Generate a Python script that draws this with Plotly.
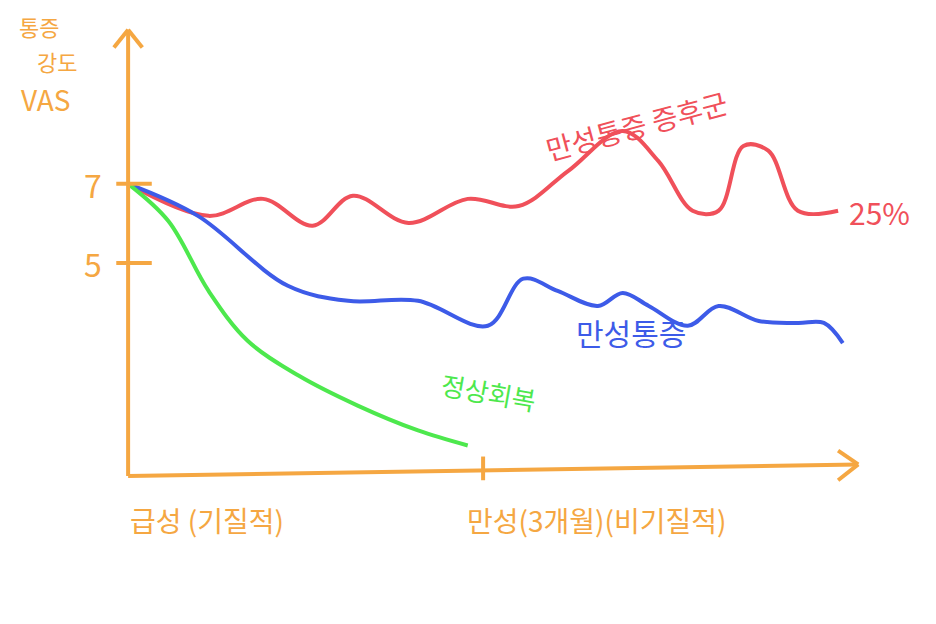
import plotly.graph_objects as go

red_x = [0, 0.68, 1.14, 1.56, 1.90, 2.37, 2.87, 3.30, 3.72, 4.18, 4.48, 4.77, 4.99, 5.20, 5.41, 5.66, 6.00]
red_y = [7, 6.19, 6.62, 5.94, 6.70, 6.01, 6.62, 6.44, 7.33, 8.34, 7.58, 6.32, 6.32, 7.96, 7.84, 6.32, 6.32]
blue_x = [0, 0.59, 1.35, 1.86, 2.45, 3.04, 3.34, 3.63, 3.97, 4.18, 4.40, 4.73, 4.99, 5.33, 5.66, 5.88, 6.04]
blue_y = [7, 6.19, 4.42, 4.04, 4.04, 3.41, 4.60, 4.29, 3.91, 4.24, 3.91, 3.41, 3.91, 3.53, 3.48, 3.48, 2.97]
green_x = [0, 0.34, 0.68, 1.01, 1.44, 1.94, 2.45, 2.87]
green_y = [7, 6.06, 4.29, 3.03, 2.15, 1.39, 0.76, 0.38]
y_ticks = [7, 5]

ORANGE = "#F5A742"
FONT = "Noto Sans CJK KR"

fig = go.Figure()
for xs, ys, c in [(red_x, red_y, "#F0505A"), (blue_x, blue_y, "#3D5BE8"), (green_x, green_y, "#4DE84D")]:
    fig.add_trace(go.Scatter(x=xs, y=ys, mode="lines", line=dict(color=c, width=4, shape="spline", smoothing=1.0), hoverinfo="skip"))

shapes = [
    dict(type="line", x0=0, y0=-0.39, x1=0, y1=10.9, line=dict(color=ORANGE, width=4)),
    dict(type="line", x0=0, y0=-0.39, x1=6.17, y1=-0.1, line=dict(color=ORANGE, width=4)),
    dict(type="line", x0=-0.12, y0=10.45, x1=0, y1=10.9, line=dict(color=ORANGE, width=4)),
    dict(type="line", x0=0.12, y0=10.45, x1=0, y1=10.9, line=dict(color=ORANGE, width=4)),
    dict(type="line", x0=6.0, y0=0.25, x1=6.17, y1=-0.1, line=dict(color=ORANGE, width=4)),
    dict(type="line", x0=6.0, y0=-0.5, x1=6.17, y1=-0.1, line=dict(color=ORANGE, width=4)),
    dict(type="line", x0=3.0, y0=-0.5, x1=3.0, y1=0.1, line=dict(color=ORANGE, width=4)),
]
for t in y_ticks:
    shapes.append(dict(type="line", x0=-0.1, y0=t, x1=0.2, y1=t, line=dict(color=ORANGE, width=4)))

ann = [
    dict(x=-0.75, y=11.0, text="통증", font=dict(size=22, color=ORANGE)),
    dict(x=-0.6, y=10.1, text="강도", font=dict(size=22, color=ORANGE)),
    dict(x=-0.7, y=9.15, text="VAS", font=dict(size=28, color=ORANGE)),
    dict(x=-0.2, y=7, text="7", font=dict(size=32, color=ORANGE), xanchor="right"),
    dict(x=-0.2, y=5, text="5", font=dict(size=32, color=ORANGE), xanchor="right"),
    dict(x=0.0, y=-1.5, text="급성 (기질적)", font=dict(size=28, color=ORANGE), xanchor="left"),
    dict(x=2.85, y=-1.5, text="만성(3개월)(비기질적)", font=dict(size=28, color=ORANGE), xanchor="left"),
    dict(x=4.3, y=8.5, text="만성통증 증후군", font=dict(size=28, color="#F0505A"), textangle=-15),
    dict(x=6.35, y=6.3, text="25%", font=dict(size=30, color="#F0505A")),
    dict(x=4.25, y=3.25, text="만성통증", font=dict(size=30, color="#3D5BE8")),
    dict(x=3.05, y=1.75, text="정상회복", font=dict(size=26, color="#4DE84D"), textangle=10),
]
for a in ann:
    a.update(showarrow=False, xref="x", yref="y")
    a["font"]["family"] = FONT

fig.update_layout(
    width=936, height=624, margin=dict(l=0, r=0, t=0, b=0),
    paper_bgcolor="white", plot_bgcolor="white", showlegend=False,
    xaxis=dict(range=[-1.015, 6.895], visible=False),
    yaxis=dict(range=[-4.34, 11.45], visible=False),
    shapes=shapes, annotations=ann,
)
fig.write_html("out.html")
